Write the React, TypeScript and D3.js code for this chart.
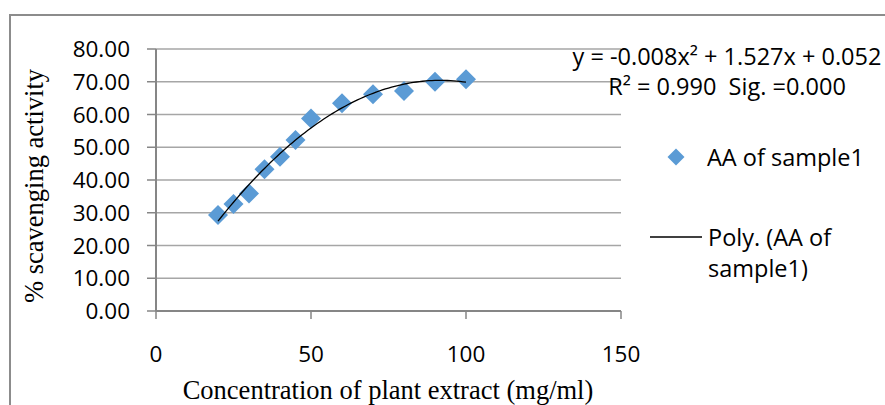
import React from "react";
import * as d3 from "d3";

const concentration = [20, 25, 30, 35, 40, 45, 50, 60, 70, 80, 90, 100];
const scavenging = [29.3, 32.7, 35.9, 43.3, 47.1, 52.2, 58.8, 63.4, 66.2, 67.2, 70.0, 70.8];
const yTicks = [0, 10, 20, 30, 40, 50, 60, 70, 80];
const xTicks = [0, 50, 100, 150];
const seriesName = "AA of sample1";
const trendName1 = "Poly. (AA of";
const trendName2 = "sample1)";
const equationLine1 = "y = -0.008x² + 1.527x + 0.052";
const equationLine2 = "R² = 0.990  Sig. =0.000";
const xTitle = "Concentration of plant extract (mg/ml)";
const yTitle = "% scavenging activity";

// least-squares quadratic fit (as Excel's polynomial trendline)
function quadFit(xs: number[], ys: number[]) {
  const n = xs.length;
  let s1 = 0, s2 = 0, s3 = 0, s4 = 0, t0 = 0, t1 = 0, t2 = 0;
  for (let i = 0; i < n; i++) {
    const x = xs[i], y = ys[i];
    s1 += x; s2 += x * x; s3 += x * x * x; s4 += x * x * x * x;
    t0 += y; t1 += x * y; t2 += x * x * y;
  }
  const M = [
    [n, s1, s2, t0],
    [s1, s2, s3, t1],
    [s2, s3, s4, t2],
  ];
  for (let i = 0; i < 3; i++) {
    for (let k = i + 1; k < 3; k++) {
      const f = M[k][i] / M[i][i];
      for (let j = i; j < 4; j++) M[k][j] -= f * M[i][j];
    }
  }
  const c = [0, 0, 0];
  for (let i = 2; i >= 0; i--) {
    let s = M[i][3];
    for (let j = i + 1; j < 3; j++) s -= M[i][j] * c[j];
    c[i] = s / M[i][i];
  }
  return (x: number) => c[0] + c[1] * x + c[2] * x * x;
}

const W = 885;
const H = 405;
const left = 156;
const right = 621;
const top = 49;
const bottom = 311;

const SANS = "'Open Sans', 'Noto Sans', sans-serif";
const SERIF = "'Liberation Serif', 'Times New Roman', serif";

export default function App() {
  const x = d3.scaleLinear().domain([0, 150]).range([left, right]);
  const y = d3.scaleLinear().domain([0, 80]).range([bottom, top]);
  const fit = quadFit(concentration, scavenging);
  const xMin = d3.min(concentration) as number;
  const xMax = d3.max(concentration) as number;
  const trendX = d3.range(xMin, xMax + 0.001, 1);
  const line = d3
    .line<number>()
    .x((d) => x(d))
    .y((d) => y(fit(d)))
    .curve(d3.curveLinear);
  const diamond = (cx: number, cy: number, r: number) =>
    `M${cx},${cy - r}L${cx + r},${cy}L${cx},${cy + r}L${cx - r},${cy}Z`;

  return (
    <svg
      width={W}
      height={H}
      style={{ position: "absolute", left: 0, top: 0, background: "#fff" }}
    >
      <rect x={0} y={0} width={W} height={H} fill="#fff" />
      {/* outer frame */}
      <path d={`M10,${H + 5}L10,15L${W + 5},15`} fill="none" stroke="#8c8c8c" strokeWidth={2} />

      {/* gridlines */}
      {yTicks.filter((t) => t > 0).map((t) => (
        <line key={t} x1={left} x2={right} y1={y(t)} y2={y(t)} stroke="#a6a6a6" strokeWidth={1.5} />
      ))}
      {/* axes */}
      <line x1={left} x2={left} y1={top} y2={bottom} stroke="#868686" strokeWidth={2} />
      <line x1={left} x2={right} y1={bottom} y2={bottom} stroke="#868686" strokeWidth={2} />
      {yTicks.map((t) => (
        <line key={"yt" + t} x1={left - 9} x2={left} y1={y(t)} y2={y(t)} stroke="#868686" strokeWidth={1.5} />
      ))}
      {xTicks.map((t) => (
        <line key={"xt" + t} x1={x(t)} x2={x(t)} y1={bottom} y2={bottom + 8} stroke="#868686" strokeWidth={1.5} />
      ))}

      {/* tick labels */}
      {yTicks.map((t) => (
        <text key={"yl" + t} x={130} y={y(t)} dy="0.36em" textAnchor="end" fontFamily={SANS} fontSize={22.5} fill="#000">
          {d3.format(".2f")(t)}
        </text>
      ))}
      {xTicks.map((t) => (
        <text key={"xl" + t} x={x(t)} y={362} textAnchor="middle" fontFamily={SANS} fontSize={22.5} fill="#000">
          {t}
        </text>
      ))}

      {/* axis titles */}
      <text x={388} y={399} textAnchor="middle" fontFamily={SERIF} fontSize={26.5} fill="#000">
        {xTitle}
      </text>
      <text
        transform={`translate(43,186) rotate(-90)`}
        textAnchor="middle"
        fontFamily={SERIF}
        fontSize={26.5}
        fill="#000"
      >
        {yTitle}
      </text>

      {/* markers */}
      {concentration.map((c, i) => (
        <path key={"m" + i} d={diamond(x(c), y(scavenging[i]), 10)} fill="#5b9bd5" />
      ))}
      {/* trendline */}
      <path d={line(trendX) || ""} fill="none" stroke="#000" strokeWidth={1.3} />

      {/* equation */}
      <text x={727} y={65} textAnchor="middle" fontFamily={SANS} fontSize={23.5} fill="#000">
        {equationLine1}
      </text>
      <text x={727} y={95} textAnchor="middle" fontFamily={SANS} fontSize={23.5} fill="#000" style={{ whiteSpace: "pre" }}>
        {equationLine2}
      </text>

      {/* legend */}
      <path d={diamond(676, 157, 8.5)} fill="#5b9bd5" />
      <text x={707} y={166} fontFamily={SANS} fontSize={23.5} fill="#000">
        {seriesName}
      </text>
      <line x1={650} x2={702} y1={237} y2={237} stroke="#000" strokeWidth={1.3} />
      <text x={708} y={246} fontFamily={SANS} fontSize={23.5} fill="#000">
        {trendName1}
      </text>
      <text x={708} y={277} fontFamily={SANS} fontSize={23.5} fill="#000">
        {trendName2}
      </text>
    </svg>
  );
}
